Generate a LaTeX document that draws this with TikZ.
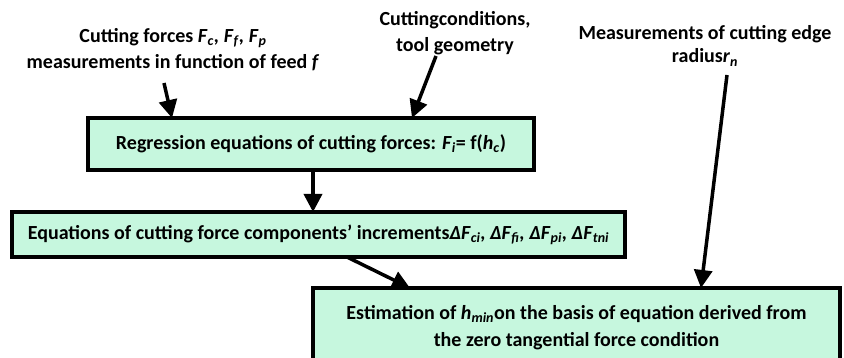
\documentclass[tikz,border=0pt]{standalone}
\usepackage{fontspec}
\setmainfont{Carlito}
\usetikzlibrary{arrows.meta}
\definecolor{mint}{RGB}{198,247,222}
\tikzset{
  box/.style={draw=black, line width=4pt, fill=mint, inner sep=0pt, align=center},
  lbl/.style={align=center, inner sep=0pt},
  arr/.style={line width=3.5pt, -{Triangle[length=18pt,width=18pt]}},
}
\newcommand{\vv}[2]{\textit{#1}\textsubscript{\textit{#2}}}
\begin{document}
\begin{tikzpicture}[x=1pt,y=-1pt,font=\fontsize{20}{26}\selectfont\bfseries]
\useasboundingbox (0,0) rectangle (844,358);
% boxes
\node[box, minimum width=446pt, minimum height=52pt] (b1) at (311,144)
  {Regression equations of cutting forces: \vv{F}{i}= f(\vv{h}{c})};
\node[box, minimum width=613pt, minimum height=45pt] (b2) at (318.5,234.5)
  {Equations of cutting force components' increments\vv{ΔF}{ci}\textit{,} \vv{ΔF}{fi}\textit{,} \vv{ΔF}{pi}\textit{,} \vv{ΔF}{tni}};
\node[box, minimum width=527pt, minimum height=86pt] (b3) at (576.5,331) {};
\node[lbl, font=\fontsize{20}{27}\selectfont\bfseries] (b3t) at (576.5,328)
  {Estimation of \vv{h}{min}on the basis of equation derived from\\the zero tangential force condition};
% top labels
\node[lbl] (s1) at (173,50) {Cutting forces \vv{F}{c}\textit{,} \vv{F}{f}\textit{,} \vv{F}{p}\\measurements in function of feed \textit{f}};
\node[lbl] (s2) at (455,33) {Cuttingconditions,\\tool geometry};
\node[lbl, font=\fontsize{20}{23}\selectfont\bfseries] (s3) at (705,46) {Measurements of cutting edge\\radius\vv{r}{n}};
% arrow endpoints
\coordinate (a1s) at (164,83);
\coordinate (a1t) at (172,118);
\coordinate (a2s) at (436,56);
\coordinate (a2t) at (412,118);
\coordinate (a3s) at (313,170);
\coordinate (a3t) at (313,212);
\coordinate (a4s) at (347,257);
\coordinate (a4t) at (410,288);
\coordinate (a5s) at (727,75);
\coordinate (a5t) at (701,288);
\draw[arr] (a1s) -- (a1t);
\draw[arr] (a2s) -- (a2t);
\draw[arr] (a3s) -- (a3t);
\draw[arr] (a4s) -- (a4t);
\draw[arr] (a5s) -- (a5t);
\end{tikzpicture}
\end{document}
